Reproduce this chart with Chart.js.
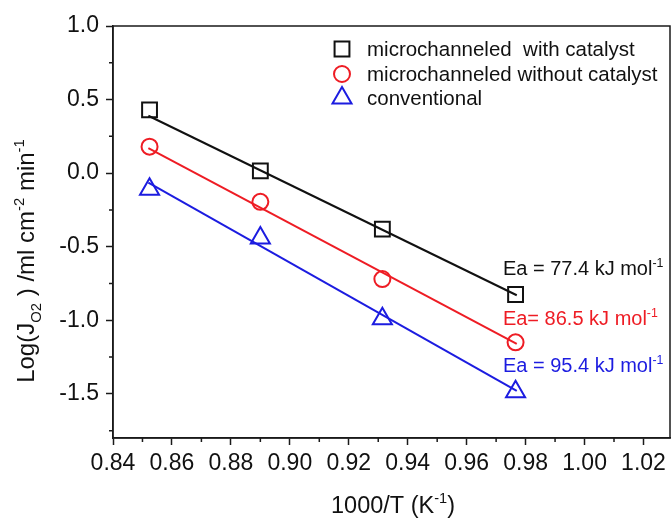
<!DOCTYPE html>
<html>
<head>
<meta charset="utf-8">
<script src="https://cdn.jsdelivr.net/npm/chart.js@4.4.1/dist/chart.umd.min.js"></script>
<style>
  html, body { margin: 0; padding: 0; background: #ffffff; overflow: hidden; }
  #wrap { width: 671px; height: 522px; overflow: hidden; }
  #arrhenius { display: block; }
</style>
</head>
<body>
<div id="wrap"><canvas id="arrhenius" width="671" height="522"></canvas></div>
<script>
// Arrhenius plot of oxygen permeation flux for three membrane types
const invT = [0.8524, 0.8900, 0.9314, 0.9766];           // 1000/T (K^-1)
const withCatalyst = [0.43, 0.015, -0.38, -0.825];       // log J, microchanneled with catalyst
const withoutCatalyst = [0.18, -0.195, -0.72, -1.15];    // log J, microchanneled without catalyst
const conventional = [-0.11, -0.44, -0.99, -1.485];      // log J, conventional

// Linear fit lines (end points)
const fitX = [0.852, 0.977];
const fitWithCatalyst = [0.39, -0.83];
const fitWithoutCatalyst = [0.17, -1.16];
const fitConventional = [-0.065, -1.48];

// Activation energy labels: text, anchor x, anchor y
const eaLabels = ['Ea = 77.4 kJ mol', 'Ea= 86.5 kJ mol', 'Ea = 95.4 kJ mol'];
const eaX = [0.9723, 0.9723, 0.9723];
const eaY = [-0.645, -0.985, -1.305];

const seriesNames = ['microchanneled  with catalyst', 'microchanneled without catalyst', 'conventional'];

// Axis ticks
const xTicks = [0.84, 0.86, 0.88, 0.90, 0.92, 0.94, 0.96, 0.98, 1.00, 1.02];
const xMinorTicks = [0.85, 0.87, 0.89, 0.91, 0.93, 0.95, 0.97, 0.99, 1.01];
const yTicks = [-1.5, -1.0, -0.5, 0.0, 0.5, 1.0];
const yMinorTicks = [-1.75, -1.25, -0.75, -0.25, 0.25, 0.75];

const BLACK = '#111111';
const RED = '#ee1c24';
const BLUE = '#1c1ce0';
const FONT = '"Liberation Sans", Arial, Helvetica, sans-serif';

// Plot frame edges on the canvas
const FRAME = { left: 113, right: 670, top: 26, bottom: 438 };

const pts = (xs, ys) => xs.map((x, i) => ({ x: x, y: ys[i] }));

function markerSet(label, ys, color, style, radius) {
  return {
    label: label,
    data: pts(invT, ys),
    showLine: false,
    pointStyle: style,
    pointRadius: radius,
    pointHoverRadius: radius,
    pointBorderWidth: 2,
    pointBorderColor: color,
    pointBackgroundColor: 'rgba(0,0,0,0)',
    borderColor: color
  };
}

function fitSet(ys, color) {
  return {
    label: 'fit',
    data: pts(fitX, ys),
    showLine: true,
    borderColor: color,
    borderWidth: 2,
    pointRadius: 0,
    fill: false
  };
}

const markerStyles = [
  { style: 'rect', radius: 10.5, color: BLACK },
  { style: 'circle', radius: 8, color: RED },
  { style: 'triangle', radius: 11, color: BLUE }
];

// Draws text with sub/superscript parts: [{t, s}] where s is 'sub' | 'sup' | undefined
function richWidth(ctx, parts, size) {
  let w = 0;
  for (const p of parts) {
    ctx.font = (p.s ? size * 0.62 : size) + 'px ' + FONT;
    w += ctx.measureText(p.t).width;
  }
  return w;
}
function drawRich(ctx, parts, x, y, size, align) {
  let cx = x;
  if (align === 'center') cx = x - richWidth(ctx, parts, size) / 2;
  ctx.textBaseline = 'alphabetic';
  ctx.textAlign = 'left';
  for (const p of parts) {
    const fs = p.s ? size * 0.62 : size;
    ctx.font = fs + 'px ' + FONT;
    let dy = 0;
    if (p.s === 'sub') dy = size * 0.3;
    if (p.s === 'sup') dy = -size * 0.42;
    ctx.fillText(p.t, cx, y + dy);
    cx += ctx.measureText(p.t).width;
  }
}

// Pins the plot area to the frame edges (tick-label padding would otherwise shrink it)
const pinFrame = {
  id: 'pinFrame',
  afterLayout(chart) {
    const x = chart.scales.x, y = chart.scales.y;
    x.left = FRAME.left; x.right = FRAME.right; x.width = FRAME.right - FRAME.left;
    x.configure();
    y.top = FRAME.top; y.bottom = FRAME.bottom; y.height = FRAME.bottom - FRAME.top;
    y.configure();
    const a = chart.chartArea;
    a.left = FRAME.left; a.right = FRAME.right; a.top = FRAME.top; a.bottom = FRAME.bottom;
    a.width = FRAME.right - FRAME.left; a.height = FRAME.bottom - FRAME.top;
  }
};

const decorations = {
  id: 'decorations',
  afterDraw(chart) {
    const ctx = chart.ctx;
    const a = chart.chartArea;
    const xs = chart.scales.x, ys = chart.scales.y;
    ctx.save();

    // frame
    ctx.strokeStyle = '#1a1a1a';
    ctx.lineWidth = 1.5;
    ctx.strokeRect(a.left, a.top, a.right - a.left, a.bottom - a.top);

    // minor ticks
    ctx.beginPath();
    for (const v of xMinorTicks) {
      const px = xs.getPixelForValue(v);
      ctx.moveTo(px, a.bottom);
      ctx.lineTo(px, a.bottom + 4);
    }
    for (const v of yMinorTicks) {
      const py = ys.getPixelForValue(v);
      ctx.moveTo(a.left, py);
      ctx.lineTo(a.left - 4, py);
    }
    ctx.stroke();

    // legend
    const lx = 342, tx = 367, rows = [49, 74, 98];
    seriesNames.forEach((name, i) => {
      const m = markerStyles[i];
      ctx.strokeStyle = m.color;
      ctx.fillStyle = 'rgba(0,0,0,0)';
      ctx.lineWidth = 2;
      Chart.helpers.drawPoint(ctx, { pointStyle: m.style, radius: m.radius, rotation: 0, borderWidth: 2 }, lx, rows[i]);
      ctx.fillStyle = BLACK;
      ctx.font = '20.5px ' + FONT;
      ctx.textAlign = 'left';
      ctx.textBaseline = 'middle';
      ctx.fillText(name, tx, rows[i] + 1);
    });

    // activation energy labels
    const eaColors = [BLACK, RED, BLUE];
    eaLabels.forEach((t, i) => {
      ctx.fillStyle = eaColors[i];
      const px = xs.getPixelForValue(eaX[i]);
      const py = ys.getPixelForValue(eaY[i]);
      drawRich(ctx, [{ t: t }, { t: '-1', s: 'sup' }], px, py + 7, 20, 'left');
    });

    // axis titles
    ctx.fillStyle = BLACK;
    drawRich(ctx, [{ t: '1000/T (K' }, { t: '-1', s: 'sup' }, { t: ')' }], 393, 513, 23.5, 'center');

    ctx.translate(34, 261);
    ctx.rotate(-Math.PI / 2);
    drawRich(ctx, [
      { t: 'Log(J' }, { t: 'O2', s: 'sub' }, { t: ' ) /ml cm' }, { t: '-2', s: 'sup' },
      { t: ' min' }, { t: '-1', s: 'sup' }
    ], 0, 0, 24, 'center');

    ctx.restore();
  }
};

new Chart(document.getElementById('arrhenius'), {
  type: 'scatter',
  data: {
    datasets: [
      markerSet(seriesNames[0], withCatalyst, BLACK, 'rect', 10.5),
      markerSet(seriesNames[1], withoutCatalyst, RED, 'circle', 8),
      markerSet(seriesNames[2], conventional, BLUE, 'triangle', 11),
      fitSet(fitWithCatalyst, BLACK),
      fitSet(fitWithoutCatalyst, RED),
      fitSet(fitConventional, BLUE)
    ]
  },
  options: {
    responsive: false,
    animation: false,
    layout: { padding: { top: FRAME.top, right: 671 - FRAME.right, left: 0, bottom: 0 } },
    plugins: { legend: { display: false }, tooltip: { enabled: false } },
    scales: {
      x: {
        type: 'linear',
        min: 0.84,
        max: 1.029,
        afterBuildTicks(scale) { scale.ticks = xTicks.map(v => ({ value: v })); },
        afterFit(scale) { scale.height = 522 - FRAME.bottom; },
        ticks: {
          color: BLACK,
          font: { family: FONT, size: 23 },
          padding: 5,
          maxRotation: 0,
          autoSkip: false,
          callback: v => Number(v).toFixed(2)
        },
        grid: { drawOnChartArea: false, drawTicks: true, tickLength: 7, tickColor: '#1a1a1a', tickWidth: 1.5 },
        border: { display: true, color: '#1a1a1a', width: 1.5 }
      },
      y: {
        type: 'linear',
        min: -1.8,
        max: 1.0,
        afterBuildTicks(scale) { scale.ticks = yTicks.map(v => ({ value: v })); },
        afterFit(scale) { scale.width = FRAME.left; },
        ticks: {
          color: BLACK,
          font: { family: FONT, size: 23 },
          padding: 7,
          autoSkip: false,
          callback: v => Number(v).toFixed(1)
        },
        grid: { drawOnChartArea: false, drawTicks: true, tickLength: 7, tickColor: '#1a1a1a', tickWidth: 1.5 },
        border: { display: true, color: '#1a1a1a', width: 1.5 }
      }
    }
  },
  plugins: [pinFrame, decorations]
});
</script>
</body>
</html>
